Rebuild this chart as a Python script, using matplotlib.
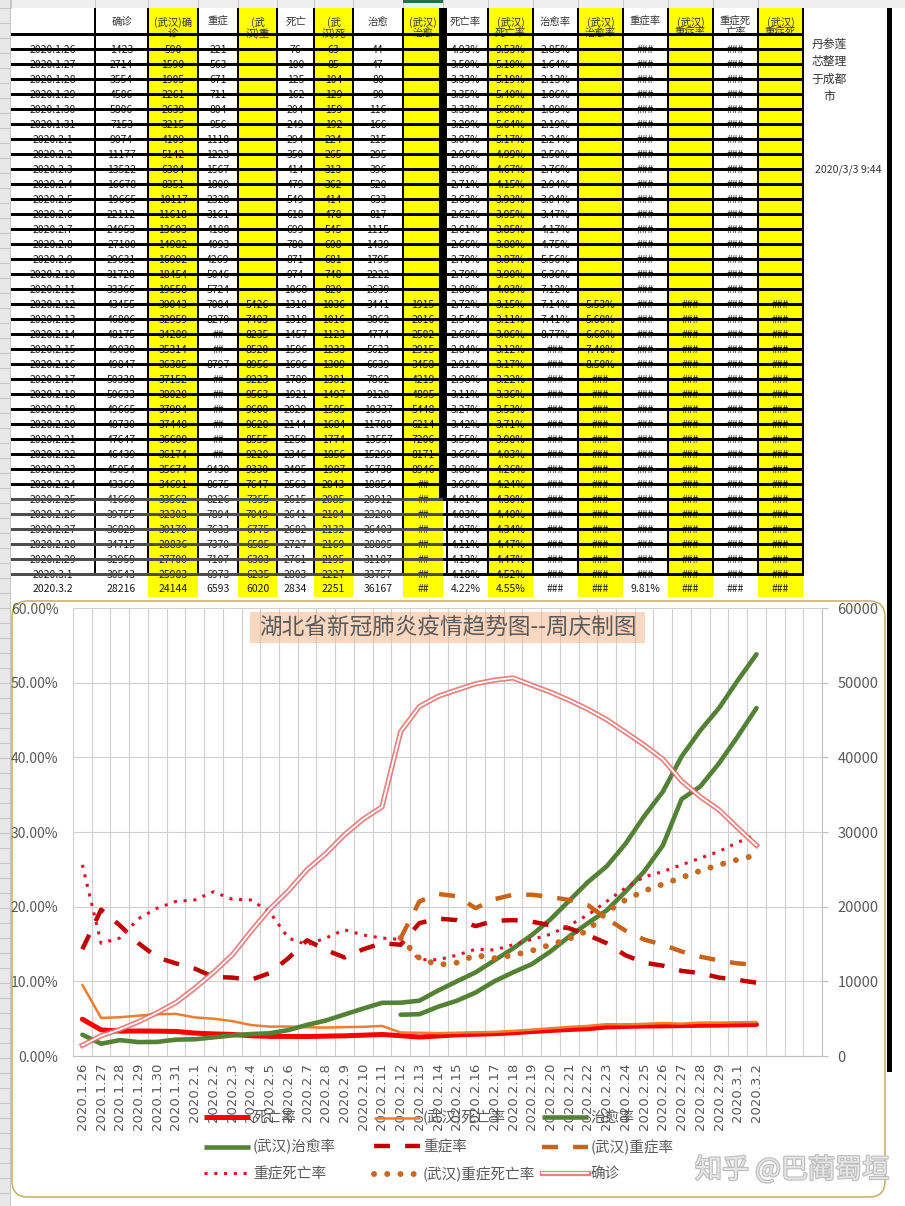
import numpy as np
import matplotlib.pyplot as plt
import matplotlib.patheffects as pe
from matplotlib.lines import Line2D
from matplotlib.patches import Rectangle, FancyBboxPatch
from matplotlib.ticker import FuncFormatter, MultipleLocator

plt.rcParams['font.family'] = ['Noto Sans CJK SC', 'DejaVu Sans']

W, H = 905, 1206
nan = np.nan

# ---------------- data ----------------
dates = ['2020.1.26', '2020.1.27', '2020.1.28', '2020.1.29', '2020.1.30', '2020.1.31',
         '2020.2.1', '2020.2.2', '2020.2.3', '2020.2.4', '2020.2.5', '2020.2.6', '2020.2.7',
         '2020.2.8', '2020.2.9', '2020.2.10', '2020.2.11', '2020.2.12', '2020.2.13',
         '2020.2.14', '2020.2.15', '2020.2.16', '2020.2.17', '2020.2.18', '2020.2.19',
         '2020.2.20', '2020.2.21', '2020.2.22', '2020.2.23', '2020.2.24', '2020.2.25',
         '2020.2.26', '2020.2.27', '2020.2.28', '2020.2.29', '2020.3.1', '2020.3.2']

confirmed = [1423, 2714, 3554, 4586, 5806, 7153, 9074, 11177, 13522, 16678, 19665, 22112,
             24953, 27100, 29631, 31728, 33366, 43455, 46806, 48175, 49030, 49847, 50338,
             50633, 49665, 48730, 47647, 46439, 45054, 43369, 41660, 39755, 36829, 34715,
             32959, 30543, 28216]
wh_confirmed = [590, 1590, 1905, 2261, 2639, 3215, 4109, 5142, 6384, 8351, 10117, 11618,
                13603, 14982, 16902, 18454, 19558, 30043, 32959, 34289, 35314, 36385, 37152,
                38020, 37994, 37448, 36680, 36174, 35674, 34691, 33562, 32303, 30170, 28836,
                27700, 25983, 24144]
severe = ['221', '563', '671', '711', '804', '956', '1118', '1223', '1567', '1809', '2328',
          '3161', '4188', '4093', '4269', '5046', '5724', '7084', '8279', '##', '##', '8797',
          '##', '##', '##', '##', '##', '##', '9430', '8675', '8226', '7894', '7633', '7370',
          '7107', '6973', '6593']
wh_severe = [''] * 17 + ['5426', '7403', '8235', '8520', '8956', '9223', '9563', '9600', '9620',
                         '8555', '9220', '9330', '7647', '7355', '7049', '6775', '6585', '6303',
                         '6235', '6020']
deaths = [76, 100, 125, 162, 204, 249, 294, 350, 414, 479, 549, 618, 699, 780, 871, 974, 1068,
          1310, 1318, 1457, 1596, 1696, 1789, 1921, 2029, 2144, 2250, 2346, 2495, 2563, 2615,
          2641, 2682, 2727, 2761, 2803, 2834]
wh_deaths = [63, 85, 104, 129, 159, 192, 224, 265, 313, 362, 414, 478, 545, 608, 681, 748, 820,
             1036, 1016, 1123, 1233, 1309, 1381, 1497, 1585, 1684, 1774, 1856, 1987, 2043, 2085,
             2104, 2132, 2169, 2195, 2227, 2251]
cured = [44, 47, 80, 90, 116, 166, 215, 295, 396, 520, 633, 817, 1115, 1439, 1795, 2222, 2639,
         3441, 3862, 4774, 5623, 6639, 7862, 9128, 10337, 11788, 13557, 15299, 16738, 18854,
         20912, 23200, 26403, 28895, 31187, 33757, 36167]
wh_cured = [''] * 17 + ['1915', '2016', '2502', '2915', '3458', '4219', '4895', '5448', '6214',
                        '7206', '8171', '8946'] + ['##'] * 8

# rates in percent
death_rate = [4.93, 3.50, 3.33, 3.35, 3.33, 3.29, 3.07, 2.96, 2.89, 2.71, 2.63, 2.62, 2.61,
              2.66, 2.70, 2.79, 2.88, 2.72, 2.54, 2.68, 2.84, 2.91, 2.98, 3.11, 3.27, 3.42,
              3.55, 3.66, 3.88, 3.96, 4.01, 4.03, 4.07, 4.11, 4.13, 4.18, 4.22]
wh_death_rate = [9.53, 5.10, 5.19, 5.40, 5.60, 5.64, 5.17, 4.99, 4.67, 4.15, 3.93, 3.95, 3.85,
                 3.80, 3.87, 3.90, 4.03, 3.15, 3.11, 3.06, 3.12, 3.17, 3.22, 3.36, 3.53, 3.71,
                 3.90, 4.03, 4.26, 4.24, 4.30, 4.40, 4.34, 4.47, 4.47, 4.52, 4.55]
cure_rate = [2.85, 1.64, 2.13, 1.86, 1.89, 2.19, 2.24, 2.50, 2.76, 2.94, 3.04, 3.47, 4.17,
             4.75, 5.56, 6.36, 7.12, 7.14, 7.41, 8.77, 10.0, 11.2, 12.8, 14.4, 16.2, 18.3,
             20.8, 23.3, 25.4, 28.4, 32.1, 35.4, 40.1, 43.6, 46.6, 50.3, 53.8]
wh_cure_rate = [nan] * 17 + [5.53, 5.60, 6.60, 7.40, 8.50, 10.0, 11.2, 12.3, 14.0, 16.0, 17.8,
                             19.5, 22.0, 24.7, 28.2, 34.4, 36.1, 39.2, 42.8, 46.6]
severe_rate = [14.3, 19.6, 17.5, 15.1, 13.2, 12.4, 11.7, 10.6, 10.5, 10.2, 11.1, 13.1, 15.5,
               14.2, 13.2, 14.3, 15.1, 14.9, 17.8, 18.4, 18.2, 17.4, 18.1, 18.2, 18.0, 17.5,
               17.1, 16.2, 15.1, 13.5, 12.5, 12.1, 11.4, 11.1, 10.5, 10.2, 9.81]
wh_severe_rate = [nan] * 17 + [15.8, 20.7, 21.7, 21.4, 19.8, 21.0, 21.6, 21.6, 21.3, 20.9,
                               20.2, 18.4, 16.8, 15.6, 14.9, 14.0, 13.3, 12.8, 12.4, 12.2]
sev_death_rate = [25.6, 15.1, 15.8, 18.4, 19.8, 20.7, 20.9, 22.0, 21.0, 20.9, 19.3, 15.8, 14.9,
                  15.8, 16.9, 16.2, 15.8, 15.6, 12.9, 12.9, 13.5, 14.3, 14.2, 14.9, 15.6, 16.3,
                  17.5, 18.9, 20.7, 22.5, 24.0, 24.7, 25.6, 26.5, 27.4, 28.6, 29.7]
wh_sev_death_rate = [nan] * 17 + [15.8, 13.1, 12.2, 12.5, 13.5, 13.1, 13.5, 14.1, 14.9, 15.7,
                                  16.8, 19.3, 20.9, 22.1, 23.0, 23.9, 24.8, 25.6, 26.3, 26.9]

header_labels = ['', '确诊', '(武汉)确\n诊', '重症', '(武\n汉)重', '死亡', '(武\n汉)死', '治愈',
                 '(武汉)\n治愈', '死亡率', '(武汉)\n死亡率', '治愈率', '(武汉)\n治愈率', '重症率',
                 '(武汉)\n重症率', '重症死\n亡率', '(武汉)\n重症死']
series_labels = ['死亡率', '(武汉)死亡率', '治愈率', '(武汉)治愈率', '重症率', '(武汉)重症率',
                 '重症死亡率', '(武汉)重症死亡率', '确诊']
title = '湖北省新冠肺炎疫情趋势图--周庆制图'
note = '丹参莲\n芯整理\n于成都\n市'
stamp = '2020/3/3 9:44'
watermark = '知乎 @巴蔺蜀垣'


def pct(v):
    if np.isnan(v):
        return ''
    return '###' if v >= 10 else f'{v:.2f}%'


# ---------------- canvas ----------------
fig = plt.figure(figsize=(W / 100, H / 100), dpi=100)
bg = fig.add_axes([0, 0, 1, 1])
bg.set_xlim(0, W)
bg.set_ylim(H, 0)
bg.axis('off')

# excel chrome
bg.add_patch(Rectangle((0, 0), W, 8, fc='#efefef', ec='none', zorder=1))
bg.add_patch(Rectangle((0, 0), 10, H, fc='#e8e8e8', ec='none', zorder=1))
for yy in np.arange(8, H, 15):
    bg.plot([0, 10], [yy, yy], color='#c4c4c4', lw=0.7, zorder=1.1)
bg.plot([10, 10], [0, H], color='#c4c4c4', lw=0.7, zorder=1.1)

# ---------------- spreadsheet ----------------
col_edges = [11, 95, 148, 198, 238, 277, 314, 353, 403, 443, 488, 533, 578, 623, 668, 713, 758, 803]
yellow = {2, 4, 6, 8, 10, 12, 14, 16}
row_h = 15
first_line = 48
n_rows = len(dates)
table_bottom = 597

for c in range(len(col_edges) - 1):
    x0, x1 = col_edges[c], col_edges[c + 1]
    bg.add_patch(Rectangle((x0, 8), x1 - x0, table_bottom - 8,
                           fc='#ffff00' if c in yellow else 'white', ec='none', zorder=2))
    bg.plot([x0, x0], [0, 8], color='#c8c8c8', lw=0.7, zorder=2)
bg.add_patch(Rectangle((403, 0), 40, 2.5, fc='#217346', ec='none', zorder=2.1))

last_line = first_line + row_h * (n_rows - 2)
for c, xe in enumerate(col_edges[1:], start=1):
    if c == 9:
        bg.add_patch(Rectangle((439, 8), 8, 492, fc='black', ec='none', zorder=3))
        bg.add_patch(Rectangle((445.5, 500), 2.2, last_line + 3 - 500, fc='black', ec='none', zorder=3))
    else:
        bg.add_patch(Rectangle((xe - 1.2, 8), 2.4, last_line + 3 - 8, fc='black', ec='none', zorder=3))

# header
bg.add_patch(Rectangle((11, 33), 803 - 11, 3, fc='black', ec='none', zorder=3))
for c, lab in enumerate(header_labels):
    x0, x1 = col_edges[c], col_edges[c + 1]
    clip = Rectangle((x0, 8), x1 - x0, 25, transform=bg.transData)
    t = bg.text((x0 + x1) / 2, 16.5, lab, ha='center', va='top', fontsize=7.5,
                color='#333333', linespacing=1.05, zorder=2.5, multialignment='center')
    t.set_clip_path(clip)

# rows (the thick borders hide the lower part of every value, as in the sheet)
for r in range(n_rows):
    vals = [dates[r], str(confirmed[r]), str(wh_confirmed[r]), severe[r], wh_severe[r],
            str(deaths[r]), str(wh_deaths[r]), str(cured[r]), wh_cured[r],
            pct(death_rate[r]), pct(wh_death_rate[r]), pct(cure_rate[r]), pct(wh_cure_rate[r]),
            pct(severe_rate[r]), pct(wh_severe_rate[r]), pct(sev_death_rate[r]),
            pct(wh_sev_death_rate[r])]
    ly = first_line + row_h * r
    if r < n_rows - 1:
        bg.add_patch(Rectangle((443, ly), 803 - 443, 3, fc='black', ec='none', zorder=3))
        bg.add_patch(Rectangle((11, ly), 443 - 11, 3, fc='black' if r < 30 else '#4d4d4d',
                               ec='none', zorder=3))
    for c, v in enumerate(vals):
        x0, x1 = col_edges[c], col_edges[c + 1]
        yy = ly + 2.0 if r < n_rows - 1 else ly + 0.5
        t = bg.text((x0 + x1) / 2, yy, v, ha='center', va='center', fontsize=7.5,
                    color='#1a1a1a', zorder=2.5)
        if r < n_rows - 1:
            t.set_clip_path(Rectangle((x0, ly - 12), x1 - x0, 12, transform=bg.transData))

bg.text(829, 70.5, note, ha='center', va='center', fontsize=8.5, color='#333333',
        linespacing=1.45, multialignment='center', zorder=2.5)
bg.text(848, 170, stamp, ha='center', va='center', fontsize=7.6, color='#333333', zorder=2.5)

# chart frame + right black bar
bg.add_patch(FancyBboxPatch((12, 601), 873, 596, boxstyle='round,pad=0,rounding_size=16',
                            fc='white', ec='#c8b46a', lw=1.2, zorder=5))
bg.add_patch(Rectangle((887, 8), 5, 1064, fc='black', ec='none', zorder=6))

# ---------------- chart ----------------
ax = fig.add_axes([73 / W, 1 - 1056 / H, 749 / W, 448 / H])
ax2 = ax.twinx()
ax.set_zorder(1)
ax2.set_zorder(2)
ax.patch.set_visible(False)
ax2.patch.set_visible(False)

x = np.arange(n_rows)
grid_c = '#d0d0d0'

styles = [
    dict(color='#ff0000', lw=3.6),
    dict(color='#ed7d31', lw=1.8),
    dict(color='#548235', lw=3.3),
    dict(color='#548235', lw=3.3),
    dict(color='#c00000', lw=3.2, dashes=(3.6, 3.4)),
    dict(color='#c9631a', lw=3.2, dashes=(3.6, 3.4)),
    dict(color='#e0102a', lw=2.2, dashes=(1.0, 2.2)),
    dict(color='#c8691f', lw=4.3, dashes=(0.01, 2.2), dash_capstyle='round'),
]
series = [death_rate, wh_death_rate, cure_rate, wh_cure_rate, severe_rate, wh_severe_rate,
          sev_death_rate, wh_sev_death_rate]
for s, st in zip(series, styles):
    ax.plot(x, s, solid_joinstyle='round', solid_capstyle='round', zorder=3, **st)

ax2.plot(x, confirmed, color='#e46c6c', lw=3.8, alpha=0.85, solid_joinstyle='round', zorder=3)
ax2.plot(x, confirmed, color='white', lw=1.3, solid_joinstyle='round', zorder=3.1)

ax.set_xlim(-0.5, 39.5)
ax.set_ylim(0, 60)
ax2.set_ylim(0, 60000)
ax.yaxis.set_major_locator(MultipleLocator(10))
ax.yaxis.set_major_formatter(FuncFormatter(lambda v, _: f'{v:.2f}%'))
ax2.yaxis.set_major_locator(MultipleLocator(10000))
ax2.yaxis.set_major_formatter(FuncFormatter(lambda v, _: f'{int(v)}'))

ax.set_xticks(x)
ax.set_xticklabels(dates, rotation=90, fontsize=9.5, color='#595959', family='DejaVu Sans')
ax.set_xticks(np.arange(-0.5, 40, 1), minor=True)
ax.grid(which='minor', axis='x', color=grid_c, lw=0.8)
ax.grid(which='major', axis='y', color=grid_c, lw=0.8)
ax.set_axisbelow(True)
ax.tick_params(axis='x', which='both', length=0, pad=5)
ax.tick_params(axis='y', length=0, pad=10.5, labelsize=10, labelcolor='#595959')
for sp in ['top', 'right', 'left']:
    ax.spines[sp].set_visible(False)
ax.spines['bottom'].set_color('#bfbfbf')
for sp in ['top', 'left', 'bottom']:
    ax2.spines[sp].set_visible(False)
ax2.spines['right'].set_color('#bfbfbf')
ax2.tick_params(axis='y', direction='out', length=4, color='#bfbfbf', pad=7,
                labelsize=10.5, labelcolor='#595959')

# title box
fig.add_artist(Rectangle((250 / W, 1 - 643 / H), 395 / W, 31 / H, transform=fig.transFigure,
                         fc='#f4b183', alpha=0.5, ec='none', zorder=2.5))
fig.text(447.5 / W, 1 - 627.5 / H, title, ha='center', va='center', fontsize=16.3,
         color='#595959', zorder=3)

# legend (Excel places the entries on a fixed grid)
handles = [Line2D([], [], solid_capstyle='butt', **st) for st in styles]
handles.append((Line2D([], [], color='#e46c6c', lw=3.8, alpha=0.85),
                Line2D([], [], color='white', lw=1.3)))
leg_x = [204, 374, 542]
leg_y = [1118, 1147, 1174]
for k, (h, lab) in enumerate(zip(handles, series_labels)):
    fig.legend([h], [lab], loc='center left',
               bbox_to_anchor=(leg_x[k % 3] / W, 1 - leg_y[k // 3] / H),
               frameon=False, borderpad=0, borderaxespad=0, handlelength=3.15,
               handletextpad=0.2, fontsize=10.5, labelcolor='#595959')

fig.text(695 / W, 1 - 1170 / H, watermark, ha='left', va='center', fontsize=19.5,
         color='#e6e6e6', zorder=6,
         path_effects=[pe.withStroke(linewidth=1.6, foreground='#bdbdbd')])

fig.savefig('out.png', dpi=100)
